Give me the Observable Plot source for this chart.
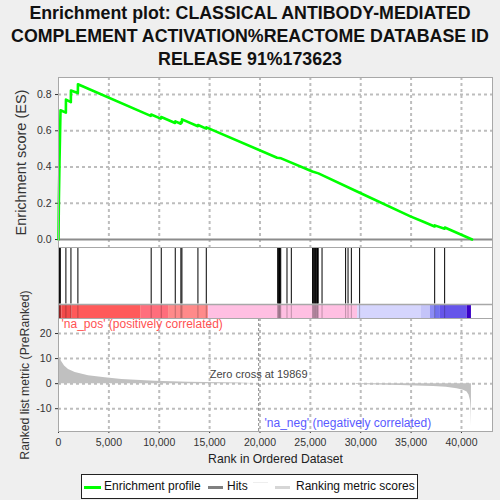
<!DOCTYPE html>
<html>
<head>
<meta charset="utf-8">
<script src="https://cdn.jsdelivr.net/npm/d3@7"></script>
<script src="https://cdn.jsdelivr.net/npm/@observablehq/plot@0.6"></script>
<style>
  html, body { margin: 0; padding: 0; background: #efefef; }
  #wrap { position: relative; width: 500px; height: 500px; overflow: hidden; background: #efefef;
          font-family: "Liberation Sans", Arial, sans-serif; }
  #title { position: absolute; left: 0; top: 1.5px; width: 500px; text-align: center; font-weight: bold;
           font-size: 17.8px; line-height: 23.3px; color: #111; }
  .panel { position: absolute; left: 0; }
  #legend { position: absolute; left: 81px; top: 474px; width: 337px; height: 25px; background: #fff;
            border: 1px solid #222; box-sizing: border-box; font-size: 12px; color: #111; }
  #legend .sw { position: absolute; height: 3px; top: 11px; }
  #legend .tx { position: absolute; top: 4px; white-space: nowrap; }
</style>
</head>
<body>
<div id="wrap">
  <div id="title">Enrichment plot: CLASSICAL ANTIBODY-MEDIATED<br>COMPLEMENT ACTIVATION%REACTOME DATABASE ID<br>RELEASE 91%173623</div>
  <div id="esPanel" class="panel" style="top:70px"></div>
  <div id="hitPanel" class="panel" style="top:247px"></div>
  <div id="metricPanel" class="panel" style="top:318px"></div>
  <div id="legend">
    <div class="sw" style="left:2px;width:17px;background:#00ff00"></div>
    <div class="tx" style="left:22px">Enrichment profile</div>
    <div class="sw" style="left:126px;width:15px;background:#808080"></div>
    <div class="tx" style="left:145px">Hits</div>
    <div class="sw" style="left:171px;width:15px;top:7px;height:1px;background:#eeeeee"></div>
    <div class="sw" style="left:193px;width:15px;background:#d6d6d6"></div>
    <div class="tx" style="left:214px">Ranking metric scores</div>
  </div>
</div>
<script>
// ---------------- data ----------------
const esRank  = [0, 40, 100, 150, 200, 730, 740, 1225, 1235, 1920, 1930, 9150, 9200, 10150, 10200, 11570, 11600,
                 12130, 12150, 12240, 12260, 13830, 13850, 14660, 14680, 21700, 22100, 25200, 25800, 29900,
                 34930, 36280, 37330, 37350, 38320, 38350, 41060];
const esValue = [0, 0.226, 0.428, 0.57, 0.713, 0.700, 0.772, 0.758, 0.822, 0.808, 0.857, 0.682, 0.690, 0.667, 0.676,
                 0.643, 0.652, 0.639, 0.648, 0.646, 0.663, 0.625, 0.632, 0.612, 0.619, 0.451, 0.448, 0.375, 0.365,
                 0.258, 0.128, 0.097, 0.072, 0.078, 0.060, 0.066, 0.0];

const hitRanks = [20, 60, 120, 180, 735, 1235, 1925, 9200, 10200, 11590, 12150, 12250, 13840, 14670,
                  21760, 21820, 21880, 21940, 22000, 22060, 22680, 23110,
                  25220, 25290, 25360, 25430, 25500, 25570, 25640, 25710, 25780, 26160,
                  28500, 28740, 29070, 29890, 37340, 38330];

const metricRank  = [0, 30, 100, 200, 340, 600, 995, 1660, 2980, 4640, 6300, 9600, 12900, 17850, 19869,
                     29550, 29560, 32000, 33940, 35500, 37240, 38500, 39570, 40200, 40560, 40750, 40890, 40950, 40990];
const metricValue = [13.5, 12, 10.5, 9.5, 8.6, 7, 5.6, 4.4, 3.2, 2.4, 1.7, 1.0, 0.6, 0.3, 0,
                     0, -0.35, -0.5, -0.7, -0.9, -1.1, -1.4, -2, -2.6, -3.3, -4.5, -6.7, -10, -17];

const barStart = [0, 330, 1330, 8210, 10925, 14900, 29700, 36030, 36920, 37350, 37910, 40560];
const barEnd   = [330, 1330, 8210, 10925, 14900, 29700, 36030, 36920, 37350, 37910, 40560, 40990];
const barColor = ["#e03a3a", "#f24a4a", "#ff5a5a", "#ff6e7c", "#ff8a8a", "#ffbfe2", "#d5d5fd", "#c4c4f9",
                  "#8c8cf4", "#7272ee", "#6655ea", "#3a00c8"];

const xTicks = [0, 5000, 10000, 15000, 20000, 25000, 30000, 35000, 40000];
const esTicks = [0, 0.2, 0.4, 0.6, 0.8];
const metricTicks = [-10, 0, 10, 20];
const zeroCross = 19869;

// ---------------- tables ----------------
const esData = esRank.map((r, i) => ({rank: r, es: esValue[i]}));
const metricData = metricRank.map((r, i) => ({rank: r, value: metricValue[i]}));
const barData = barStart.map((s, i) => ({start: s, end: barEnd[i], color: barColor[i]}));

const xDomain = [0, 43080];
const esDomain = [-0.044, 0.894];
const metricDomain = [-19.1, 26];
const font = "'Liberation Sans', Arial, sans-serif";
const baseStyle = {background: "transparent", overflow: "visible", fontFamily: font, fontSize: "10.5px", color: "#333"};
const grid = {stroke: "#bdbdbd", strokeWidth: 2, strokeDasharray: "3,3"};

// ---------------- ES panel ----------------
const esPlot = Plot.plot({
  width: 500, height: 178, marginLeft: 58, marginRight: 8, marginTop: 7, marginBottom: 1,
  style: baseStyle,
  x: {domain: xDomain, axis: null},
  y: {domain: esDomain, ticks: esTicks, tickFormat: d3.format(".1f"), tickSize: 3, tickPadding: 4, label: null},
  marks: [
    Plot.frame({fill: "white", stroke: "none"}),
    Plot.ruleX(xTicks.filter(d => d > 0), grid),
    Plot.ruleY(esTicks.filter(d => d > 0), grid),
    Plot.ruleY([0], {stroke: "#8c8c8c", strokeWidth: 2}),
    Plot.line(esData, {x: "rank", y: "es", stroke: "#00ff00", strokeWidth: 2.6}),
    Plot.frame({stroke: "#a8a8a8"}),
    Plot.text(["Enrichment score (ES)"], {frameAnchor: "left", textAnchor: "middle", lineAnchor: "middle",
      dx: -37, rotate: -90, fontSize: 14.5, fill: "#333"})
  ]
});
document.getElementById("esPanel").appendChild(esPlot);

// ---------------- hits + colour bar ----------------
const hitPlot = Plot.plot({
  width: 500, height: 72, marginLeft: 58, marginRight: 8, marginTop: 0, marginBottom: 0,
  style: baseStyle,
  x: {domain: xDomain, axis: null},
  y: {domain: [0, 1], axis: null},
  color: {type: "identity"},
  marks: [
    Plot.frame({fill: "white", stroke: "none"}),
    Plot.rect(barData, {x1: "start", x2: "end", y1: 0.01, y2: 0.208, fill: "color"}),
    Plot.ruleX(hitRanks, {y1: 0.01, y2: 0.208, stroke: "#000", strokeOpacity: 0.25, strokeWidth: 1}),
    Plot.ruleX(hitRanks, {y1: 0.215, y2: 0.99, stroke: "#000", strokeWidth: 1}),
    Plot.ruleY([0.208], {stroke: "#a8a8a8", strokeWidth: 1.3}),
    Plot.frame({stroke: "#a8a8a8"})
  ]
});
document.getElementById("hitPanel").appendChild(hitPlot);

// ---------------- ranked metric panel ----------------
const metricPlot = Plot.plot({
  width: 500, height: 152, marginLeft: 58, marginRight: 8, marginTop: 0, marginBottom: 39,
  style: baseStyle,
  x: {domain: xDomain, ticks: xTicks, tickFormat: d3.format(","), tickSize: 2, tickPadding: 5, label: null},
  y: {domain: metricDomain, ticks: metricTicks, tickFormat: d => String(d), tickSize: 3, tickPadding: 4, label: null},
  marks: [
    Plot.frame({fill: "white", stroke: "none"}),
    Plot.ruleX(xTicks.filter(d => d > 0), grid),
    Plot.ruleY(metricTicks, grid),
    Plot.areaY(metricData, {x: "rank", y: "value", fill: "#c0c0c0"}),
    Plot.ruleX([zeroCross], {stroke: "#8a8a8a", strokeDasharray: "3,2"}),
    Plot.text(["Zero cross at " + zeroCross], {x: zeroCross, y: 3.6, fontSize: 11, fill: "#444"}),
    Plot.text(["'na_pos' (positively correlated)"], {frameAnchor: "top-left", lineAnchor: "middle", dx: 3, dy: 6,
      textAnchor: "start", fontSize: 12, fill: "#ff5252"}),
    Plot.text(["'na_neg' (negatively correlated)"], {x: [28720], frameAnchor: "bottom", lineAnchor: "middle", dy: -8,
      fontSize: 12, fill: "#5a5aff"}),
    Plot.frame({stroke: "#a8a8a8"}),
    Plot.text(["Ranked list metric (PreRanked)"], {frameAnchor: "left", textAnchor: "middle", lineAnchor: "middle",
      dx: -33, rotate: -90, fontSize: 12.2, fill: "#333"}),
    Plot.text(["Rank in Ordered Dataset"], {frameAnchor: "bottom", lineAnchor: "middle", dy: 28, fontSize: 12.2, fill: "#222"})
  ]
});
document.getElementById("metricPanel").appendChild(metricPlot);
</script>
</body>
</html>
